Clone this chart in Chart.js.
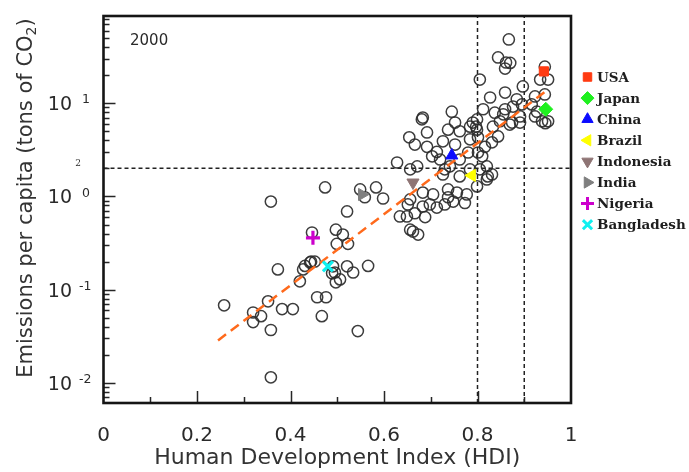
<!DOCTYPE html>
<html>
<head>
<meta charset="utf-8">
<script src="https://cdn.jsdelivr.net/npm/chart.js@4/dist/chart.umd.min.js"></script>
<style>
  html, body { margin: 0; padding: 0; background: #fff; }
  #wrap { width: 689px; height: 472px; }
</style>
</head>
<body>
<div id="wrap"><canvas id="chart" width="689" height="472"></canvas></div>
<script>
// Countries, year 2000: Human Development Index vs CO2 emissions per capita (tons)
const hdi = [
  0.258, 0.320, 0.337, 0.320, 0.358, 0.352, 0.382, 0.405, 0.373, 0.427,
  0.420, 0.444, 0.452, 0.457, 0.476, 0.467, 0.358, 0.544, 0.358, 0.442,
  0.431, 0.491, 0.521, 0.566, 0.534, 0.489, 0.495, 0.497, 0.506, 0.446,
  0.497, 0.512, 0.499, 0.523, 0.521, 0.474, 0.549, 0.559, 0.583, 0.598,
  0.628, 0.634, 0.649, 0.656, 0.662, 0.673, 0.688, 0.698, 0.713, 0.730,
  0.656, 0.666, 0.805, 0.745, 0.681, 0.752, 0.654, 0.692, 0.737, 0.762,
  0.784, 0.784, 0.801, 0.666, 0.692, 0.713, 0.726, 0.752, 0.703, 0.720,
  0.762, 0.780, 0.801, 0.810, 0.671, 0.656, 0.730, 0.762, 0.784, 0.822,
  0.820, 0.683, 0.705, 0.737, 0.756, 0.777, 0.737, 0.748, 0.773, 0.651,
  0.683, 0.726, 0.741, 0.683, 0.867, 0.844, 0.861, 0.870, 0.859, 0.897,
  0.944, 0.934, 0.951, 0.827, 0.859, 0.884, 0.923, 0.944, 0.812, 0.837,
  0.859, 0.876, 0.895, 0.916, 0.927, 0.923, 0.938, 0.951, 0.945, 0.848,
  0.869, 0.833, 0.891, 0.855, 0.874, 0.891, 0.844, 0.831, 0.816, 0.805,
  0.820, 0.831, 0.799, 0.790, 0.799, 0.799, 0.797
];
const emissions = [
  0.068, 0.057, 0.052, 0.045, 0.037, 0.075, 0.062, 0.062, 0.165, 0.165,
  0.123, 0.200, 0.200, 0.083, 0.083, 0.052, 0.0115, 0.036, 0.88, 0.196,
  0.180, 0.178, 0.178, 0.180, 0.153, 0.150, 0.153, 0.120, 0.129, 0.41,
  0.44, 0.39, 0.31, 0.31, 0.69, 1.25, 1.19, 0.98, 1.25, 0.95,
  2.31, 0.61, 0.61, 0.44, 0.42, 0.39, 0.60, 0.82, 0.76, 0.82,
  0.93, 0.66, 17.9, 8.1, 6.7, 6.2, 4.3, 4.85, 5.2, 5.0,
  5.6, 4.1, 4.3, 3.6, 3.4, 3.0, 3.9, 3.6, 2.69, 2.49,
  2.49, 2.96, 2.96, 2.69, 2.10, 1.95, 1.95, 1.64, 1.95, 1.64,
  2.10, 1.10, 1.05, 1.19, 1.10, 1.05, 0.98, 0.88, 0.85, 0.82,
  0.78, 1.72, 2.10, 7.0, 48.2, 30.9, 27.3, 27.0, 23.5, 15.1,
  24.6, 17.9, 17.9, 11.5, 13.0, 11.0, 11.8, 12.4, 8.6, 7.9,
  8.6, 9.2, 9.7, 9.7, 8.1, 7.2, 6.4, 6.4, 6.1, 6.4,
  5.9, 5.6, 7.2, 7.6, 6.2, 6.2, 4.4, 3.8, 3.4, 1.95,
  1.52, 1.72, 1.28, 6.2, 5.2, 6.7, 5.6
];

// Highlighted countries
const countryNames = ['USA', 'Japan', 'China', 'Brazil', 'Indonesia', 'India', 'Nigeria', 'Bangladesh'];
const countryHdi = [0.942, 0.946, 0.745, 0.788, 0.662, 0.553, 0.448, 0.480];
const countryEmissions = [21.9, 8.6, 2.75, 1.68, 1.41, 1.05, 0.36, 0.178];
const countryColors = ['#ff3b12', '#1ff01f', '#0b0bff', '#ffff00', '#8e7474', '#7f7f7f', '#cc00cc', '#10f0f0'];
const countryStyles = ['rect', 'rectRot', 'triangle', 'triangle', 'triangle', 'triangle', 'cross', 'crossRot'];
const countryRotations = [0, 0, 0, -90, 180, 90, 0, 0];

// Log-linear fit through the cloud
const fitHdi = [0.245, 0.944];
const fitEmissions = [0.0286, 13.2];

// Reference thresholds
const emissionThreshold = 2;
const hdiThresholds = [0.8, 0.9];

// Axes
const xTickValues = [0, 0.2, 0.4, 0.6, 0.8, 1];
const xTickLabels = ['0', '0.2', '0.4', '0.6', '0.8', '1'];
const yTickValues = [0.01, 0.1, 1, 10];
const yTickBases = ['10', '10', '10', '10'];
const yTickExponents = ['-2', '-1', '0', '1'];
const Y_MIN = 0.0061, Y_MAX = 86;
const yearLabel = '2000';
const xTitle = 'Human Development Index (HDI)';
const yTitle = 'Emissions per capita (tons of CO';

const SANS = '"DejaVu Sans", Arial, sans-serif';
const SERIF = '"DejaVu Serif", "Liberation Serif", serif';

const datasets = [];
countryNames.forEach((name, i) => {
  const isStroke = countryStyles[i] === 'cross' || countryStyles[i] === 'crossRot';
  datasets.push({
    label: name,
    data: [{ x: countryHdi[i], y: countryEmissions[i] }],
    pointStyle: countryStyles[i],
    pointRotation: countryRotations[i],
    pointRadius: countryStyles[i] === 'rect' ? 6.5 : 7,
    backgroundColor: countryColors[i],
    borderColor: countryColors[i],
    borderWidth: isStroke ? 3.2 : 1,
    order: 0
  });
});
datasets.push({
  label: 'fit',
  data: fitHdi.map((v, i) => ({ x: v, y: fitEmissions[i] })),
  showLine: true,
  borderColor: '#ff6a1c',
  borderWidth: 2.5,
  borderDash: [10, 6],
  pointRadius: 0,
  order: 1
});
datasets.push({
  label: 'countries',
  data: hdi.map((v, i) => ({ x: v, y: emissions[i] })),
  pointStyle: 'circle',
  pointRadius: 5.6,
  borderWidth: 1.5,
  borderColor: 'rgba(45,45,45,0.92)',
  backgroundColor: 'rgba(0,0,0,0)',
  order: 2
});
datasets.push({
  label: 'threshold-emission',
  data: [{ x: 0, y: emissionThreshold }, { x: 1, y: emissionThreshold }],
  showLine: true, borderColor: '#222', borderWidth: 1.5, borderDash: [4, 3],
  pointRadius: 0, order: 3
});
hdiThresholds.forEach(t => datasets.push({
  label: 'threshold-hdi',
  data: [{ x: t, y: Y_MIN }, { x: t, y: Y_MAX }],
  showLine: true, borderColor: '#222', borderWidth: 1.5, borderDash: [4, 3],
  pointRadius: 0, order: 3
}));

// Inner ticks, frame, log-axis labels, titles and the country key
const decorations = {
  id: 'decorations',
  afterDatasetsDraw(chart) {
    const { ctx, chartArea: a, scales: { x, y } } = chart;
    ctx.save();
    ctx.strokeStyle = '#262626';
    ctx.lineWidth = 1.5;
    ctx.beginPath();
    for (let e = -3; e <= 1; e++) {
      for (let m = 1; m <= 9; m++) {
        const v = m * Math.pow(10, e);
        if (v < Y_MIN || v > Y_MAX) continue;
        const py = Math.round(y.getPixelForValue(v)) + 0.5;
        const len = m === 1 ? 12 : 6;
        ctx.moveTo(a.left, py);
        ctx.lineTo(a.left + len, py);
      }
    }
    for (let k = 1; k < 10; k++) {
      const px = Math.round(x.getPixelForValue(k / 10)) + 0.5;
      const len = k % 2 === 0 ? 12 : 6;
      ctx.moveTo(px, a.bottom);
      ctx.lineTo(px, a.bottom - len);
    }
    ctx.stroke();
    ctx.lineWidth = 2.6;
    ctx.strokeStyle = '#151515';
    ctx.strokeRect(a.left, a.top, a.right - a.left, a.bottom - a.top);
    ctx.restore();
  },
  afterDraw(chart) {
    const { ctx, chartArea: a, scales: { y } } = chart;
    ctx.save();
    ctx.fillStyle = '#2a2a2a';
    // y tick labels written as powers of ten
    yTickValues.forEach((v, i) => {
      const py = y.getPixelForValue(v);
      ctx.font = '19px ' + SANS;
      ctx.textAlign = 'right';
      ctx.textBaseline = 'middle';
      ctx.fillText(yTickBases[i], 72, py + 2);
      ctx.font = '12.5px ' + SANS;
      ctx.textAlign = 'left';
      ctx.fillText(yTickExponents[i], yTickExponents[i].length > 1 ? 79 : 82, py - 3);
    });
    // threshold value next to the dashed line
    ctx.font = '9px ' + SERIF;
    ctx.textAlign = 'center';
    ctx.textBaseline = 'middle';
    ctx.fillText(String(emissionThreshold), 78, y.getPixelForValue(emissionThreshold) - 5);

    // y title with subscript
    ctx.save();
    ctx.translate(27, 198);
    ctx.rotate(-Math.PI / 2);
    ctx.font = '21px ' + SANS;
    const wMain = ctx.measureText(yTitle).width;
    ctx.font = '14px ' + SANS;
    const wSub = ctx.measureText('2').width;
    ctx.font = '21px ' + SANS;
    const wClose = ctx.measureText(')').width;
    let sx = -(wMain + wSub + wClose) / 2;
    ctx.textAlign = 'left';
    ctx.textBaseline = 'middle';
    ctx.fillStyle = '#333';
    ctx.fillText(yTitle, sx, 0);
    sx += wMain;
    ctx.font = '14px ' + SANS;
    ctx.fillText('2', sx, 5);
    sx += wSub;
    ctx.font = '21px ' + SANS;
    ctx.fillText(')', sx, 0);
    ctx.restore();

    // year tag
    ctx.font = '15px ' + SANS;
    ctx.fillStyle = '#2a2a2a';
    ctx.textAlign = 'left';
    ctx.textBaseline = 'middle';
    ctx.fillText(yearLabel, 130, 41);

    // country key
    countryNames.forEach((name, i) => {
      const cy = 77 + i * 21.1;
      const isStroke = countryStyles[i] === 'cross' || countryStyles[i] === 'crossRot';
      ctx.fillStyle = countryColors[i];
      ctx.strokeStyle = countryColors[i];
      ctx.lineWidth = isStroke ? 3 : 1;
      Chart.helpers.drawPoint(ctx, {
        pointStyle: countryStyles[i],
        rotation: countryRotations[i],
        radius: countryStyles[i] === 'rect' ? 6 : 6.5,
        borderWidth: isStroke ? 3 : 1
      }, 587.5, cy);
      ctx.fillStyle = '#1e1e1e';
      ctx.font = 'bold 13.5px ' + SERIF;
      ctx.textAlign = 'left';
      ctx.textBaseline = 'middle';
      ctx.fillText(name, 597, cy + 1);
    });
    ctx.restore();
  }
};

new Chart(document.getElementById('chart'), {
  type: 'scatter',
  data: { datasets },
  options: {
    responsive: false,
    devicePixelRatio: 1,
    animation: false,
    events: [],
    layout: { padding: { left: 0, right: 118, top: 16, bottom: 0 } },
    plugins: { legend: { display: false }, tooltip: { enabled: false } },
    scales: {
      x: {
        type: 'linear',
        min: 0, max: 1,
        afterBuildTicks(s) { s.ticks = xTickValues.map(v => ({ value: v })); },
        afterFit(s) { s.height = 69; },
        ticks: {
          autoSkip: false, maxRotation: 0, padding: 12.5,
          color: '#2a2a2a',
          font: { family: SANS, size: 20 },
          callback: (v, i) => xTickLabels[i]
        },
        grid: { display: false },
        border: { display: false },
        title: {
          display: true, text: xTitle, color: '#333',
          font: { family: SANS, size: 22 },
          padding: { top: 0, bottom: 1 }
        }
      },
      y: {
        type: 'logarithmic',
        min: Y_MIN, max: Y_MAX,
        afterFit(s) { s.width = 103.5; },
        ticks: { display: false },
        grid: { display: false },
        border: { display: false }
      }
    }
  },
  plugins: [decorations]
});
</script>
</body>
</html>
